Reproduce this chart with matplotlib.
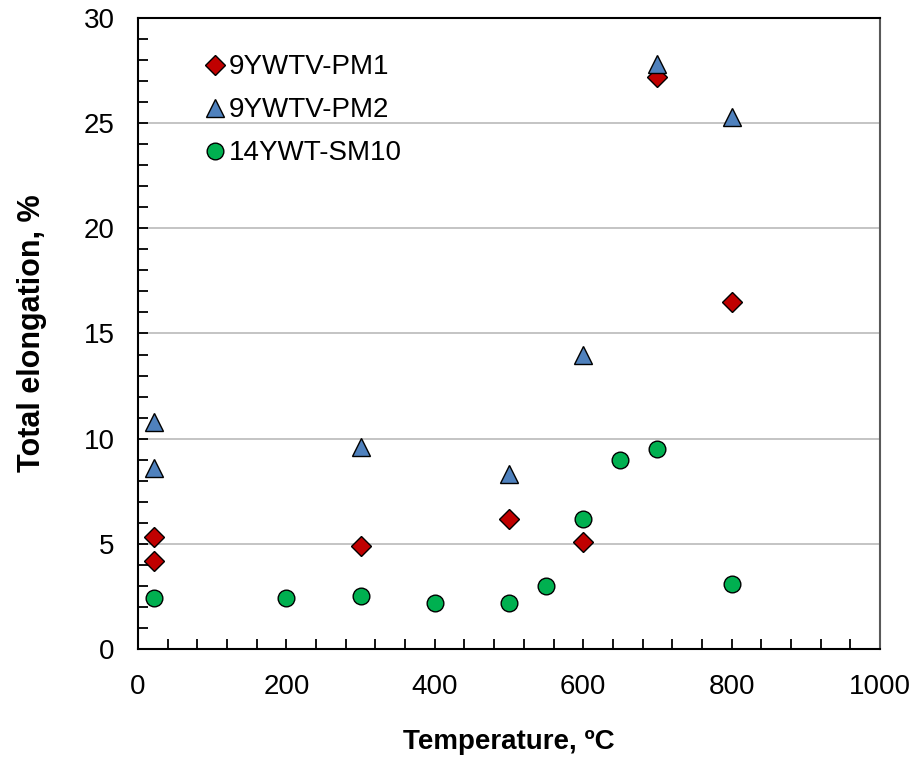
import numpy as np
import matplotlib.pyplot as plt
from matplotlib.ticker import MultipleLocator

plt.rcParams['font.family'] = ['Liberation Sans', 'DejaVu Sans']

# total elongation vs test temperature
temp_pm1 = [22, 22, 300, 500, 600, 700, 800]
elong_pm1 = [5.3, 4.2, 4.9, 6.2, 5.1, 27.2, 16.5]

temp_pm2 = [22, 22, 300, 500, 600, 700, 800]
elong_pm2 = [10.8, 8.6, 9.6, 8.3, 14.0, 27.8, 25.3]

temp_sm10 = [22, 200, 300, 400, 500, 550, 600, 650, 700, 800]
elong_sm10 = [2.4, 2.4, 2.5, 2.2, 2.2, 3.0, 6.2, 9.0, 9.5, 3.1]

fig = plt.figure(figsize=(9.22, 7.6), dpi=100)
ax = fig.add_axes([0.1497, 0.1461, 0.8047, 0.8302])

ax.plot(temp_pm1, elong_pm1, linestyle='none', marker='D', markersize=10,
        markerfacecolor='#C00000', markeredgecolor='black', markeredgewidth=1.0,
        label='9YWTV-PM1', zorder=3)
ax.plot(temp_pm2, elong_pm2, linestyle='none', marker='^', markersize=13,
        markerfacecolor='#4F81BD', markeredgecolor='black', markeredgewidth=1.0,
        label='9YWTV-PM2', zorder=3)
ax.plot(temp_sm10, elong_sm10, linestyle='none', marker='o', markersize=12,
        markerfacecolor='#00B050', markeredgecolor='black', markeredgewidth=1.0,
        label='14YWT-SM10', zorder=3)

ax.set_xlim(0, 1000)
ax.set_ylim(0, 30)
ax.xaxis.set_major_locator(MultipleLocator(200))
ax.xaxis.set_minor_locator(MultipleLocator(40))
ax.yaxis.set_major_locator(MultipleLocator(5))
ax.yaxis.set_minor_locator(MultipleLocator(1))

ax.grid(axis='y', which='major', color='#BFBFBF', linewidth=1.3, zorder=0)
ax.set_axisbelow(True)

ax.tick_params(axis='both', which='both', direction='in', labelsize=20,
               color='black', width=1.3, length=7)
ax.tick_params(axis='x', which='major', pad=18)
ax.tick_params(axis='y', which='major', pad=17)

for side in ['left', 'bottom', 'top']:
    ax.spines[side].set_color('black')
    ax.spines[side].set_linewidth(1.5)
ax.spines['right'].set_color('#595959')
ax.spines['right'].set_linewidth(1.5)

ax.set_xlabel('Temperature, ºC', fontsize=20, fontweight='bold', labelpad=21)
ax.set_ylabel('Total elongation, %', fontsize=22, fontweight='bold', labelpad=26)

ax.legend(loc='upper left', bbox_to_anchor=(0.078, 0.96), frameon=False,
          fontsize=20, handlelength=0.6, handletextpad=0.18, labelspacing=0.61,
          borderaxespad=0)

fig.savefig('out.png', dpi=100)
